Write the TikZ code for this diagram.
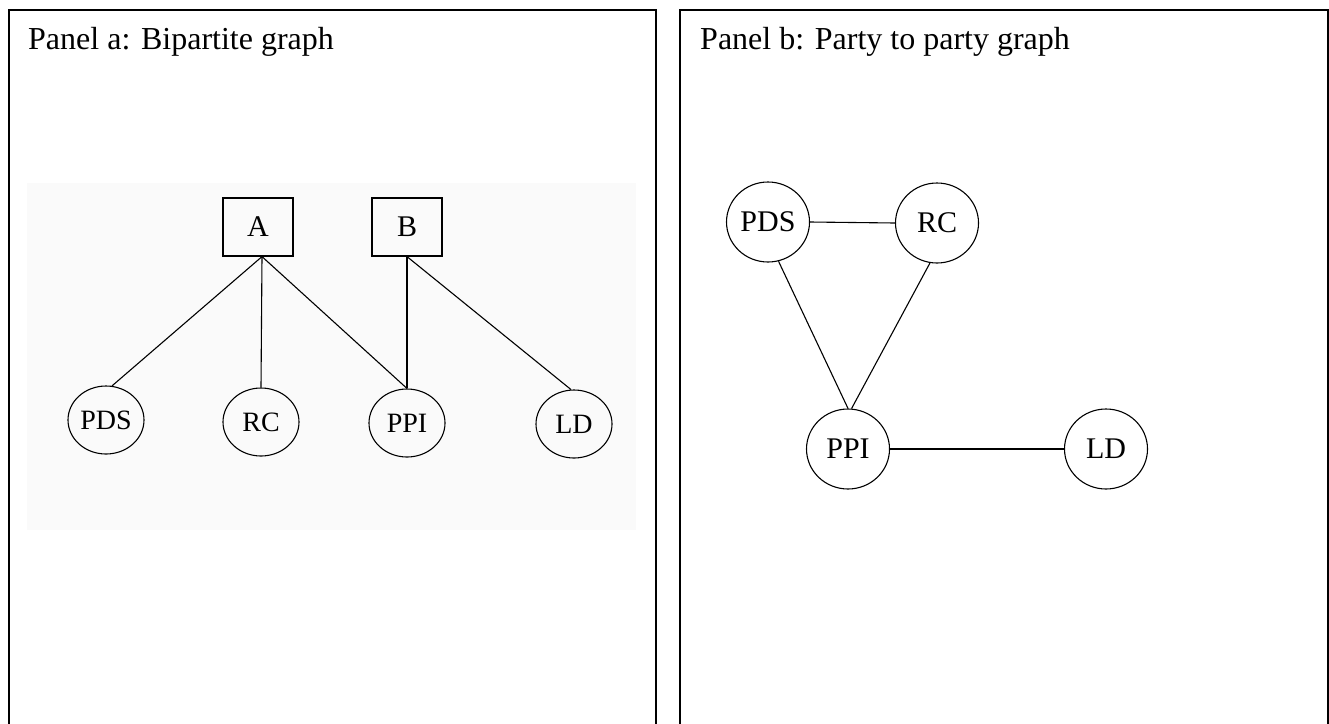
\documentclass[tikz,border=0pt]{standalone}
\usepackage{fontspec}
\setmainfont{Liberation Serif}
\usetikzlibrary{shapes.geometric}
\begin{document}
\begin{tikzpicture}[x=1pt,y=-1pt,
  frame/.style={line width=2pt,black},
  title/.style={anchor=base west,inner sep=0pt,font=\fontsize{32}{38}\selectfont},
  partybox/.style={draw,line width=1.2pt,rectangle,minimum width=70pt,minimum height=58pt,inner sep=0pt,font=\fontsize{30}{36}\selectfont},
  partyA/.style={draw,line width=1.1pt,ellipse,minimum width=76pt,minimum height=68pt,inner sep=0pt,font=\fontsize{28}{33}\selectfont},
  partyB/.style={draw,line width=1.1pt,ellipse,minimum width=83pt,minimum height=80pt,inner sep=0pt,font=\fontsize{30}{36}\selectfont},
  link/.style={line width=1.1pt}]
\useasboundingbox (0,0) rectangle (1329,723);
\fill[white] (0,0) rectangle (1329,723);
% frames
\draw[frame] (9,740) -- (9,10) -- (655.5,10) -- (655.5,740);
\draw[frame] (680,740) -- (680,10) -- (1328,10) -- (1328,740);
% titles
\node[title] (ta) at (28,49) {Panel a: Bipartite graph};
\node[title] (tb) at (700,49) {Panel b: Party to party graph};
% panel a background
\fill[black!2] (27,183) rectangle (636,530);
% panel a nodes
\node[partybox] (A) at (258,227) {A};
\node[partybox] (B) at (407,227) {B};
\node[partyA] (PDSa) at (106,420) {PDS};
\node[partyA] (RCa) at (261,422) {RC};
\node[partyA] (PPIa) at (407,423) {PPI};
\node[partyA] (LDa) at (574,424) {LD};
% panel a edges
\draw[link] ([xshift=4pt]A.south) -- (PDSa.80);
\draw[link] ([xshift=4pt]A.south) -- (RCa.north);
\draw[link] ([xshift=4pt]A.south) -- (PPIa.north);
\draw[link] (B.south) -- (PPIa.north);
\draw[link] (B.south) -- (LDa.95);
% panel b nodes
\node[partyB] (PDSb) at (768,222) {PDS};
\node[partyB] (RCb) at (937,223) {RC};
\node[partyB] (PPIb) at (848,449) {PPI};
\node[partyB] (LDb) at (1106,449) {LD};
% panel b edges
\draw[link] (PDSb.east) -- (RCb.west);
\draw[link] (PDSb.-75) -- (PPIb.north);
\draw[link] (RCb.-100) -- (PPIb.85);
\draw[link] (PPIb.east) -- (LDb.west);
\end{tikzpicture}
\end{document}
